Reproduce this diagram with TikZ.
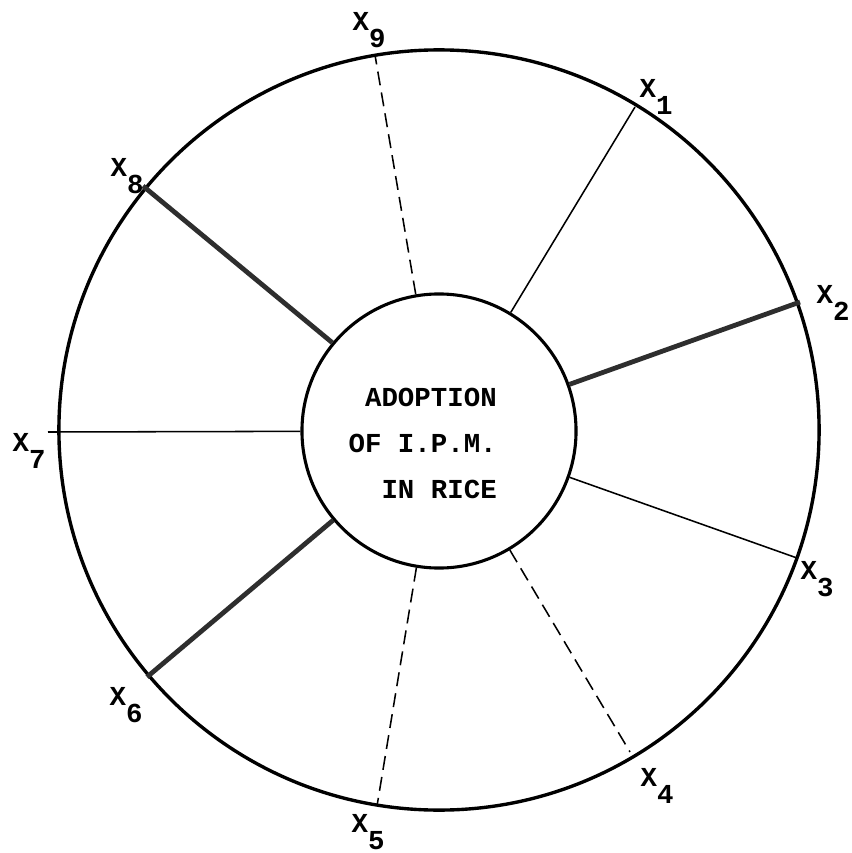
\documentclass[tikz,border=0pt]{standalone}
\usepackage{fontspec}
\setmonofont{Liberation Mono}
\usetikzlibrary{positioning}
\tikzset{
    ringline/.style={draw, circle, line width=2.4pt, minimum size=19cm, inner sep=0pt},
    hubline/.style={draw, circle, line width=2.2pt, minimum size=6.85cm, inner sep=0pt},
    thinspoke/.style={line width=1.1pt},
    thickspoke/.style={line width=3.4pt, black!82},
    dashspoke/.style={line width=1.1pt, dash pattern=on 0.35cm off 0.18cm},
    xlab/.style={font=\ttfamily\bfseries\fontsize{19.5}{19.5}\selectfont, inner sep=0pt},
    hubtext/.style={font=\ttfamily\bfseries\fontsize{19.5}{32.7}\selectfont, align=right, inner sep=0pt},
}
\newcommand{\xsub}[1]{X\raisebox{-0.62em}{#1}}

\begin{document}
\begin{tikzpicture}[x=0.025cm, y=-0.025cm]
    \useasboundingbox (0,0) rectangle (851,853);

    % circles
    \node[ringline] (ring) at (439,430) {};
    \node[hubline] (hub) at (439,431) {};
    \node[hubtext, anchor=east] (title) at (497,443) {ADOPTION\\OF I.P.M.\\IN RICE};

    % outer ends
    \coordinate (e1) at (635,107);
    \coordinate (e2) at (800,302);
    \coordinate (e3) at (797,558);
    \coordinate (e4) at (630,752);
    \coordinate (e5) at (377,806);
    \coordinate (e6) at (147,677);
    \coordinate (e7) at (48,432);
    \coordinate (e8) at (143,186);
    \coordinate (e9) at (375,55);

    % spokes
    \draw[thinspoke] (hub) -- (e1);
    \draw[thickspoke] (hub) -- (e2);
    \draw[thinspoke] (hub) -- (e3);
    \draw[dashspoke] (hub) -- (e4);
    \draw[dashspoke] (hub) -- (e5);
    \draw[thickspoke] (hub) -- (e6);
    \draw[thinspoke] (hub) -- (e7);
    \draw[thickspoke] (hub) -- (e8);
    \draw[dashspoke] (hub) -- (e9);

    % labels
    \node[xlab] (l1) at (656,97) {\xsub{1}};
    \node[xlab] (l2) at (833,303) {\xsub{2}};
    \node[xlab] (l3) at (817,579) {\xsub{3}};
    \node[xlab] (l4) at (657,786) {\xsub{4}};
    \node[xlab] (l5) at (368,832) {\xsub{5}};
    \node[xlab] (l6) at (126,705) {\xsub{6}};
    \node[xlab] (l7) at (29,451) {\xsub{7}};
    \node[xlab] (l8) at (127,176) {\xsub{8}};
    \node[xlab] (l9) at (369,30) {\xsub{9}};
\end{tikzpicture}
\end{document}
